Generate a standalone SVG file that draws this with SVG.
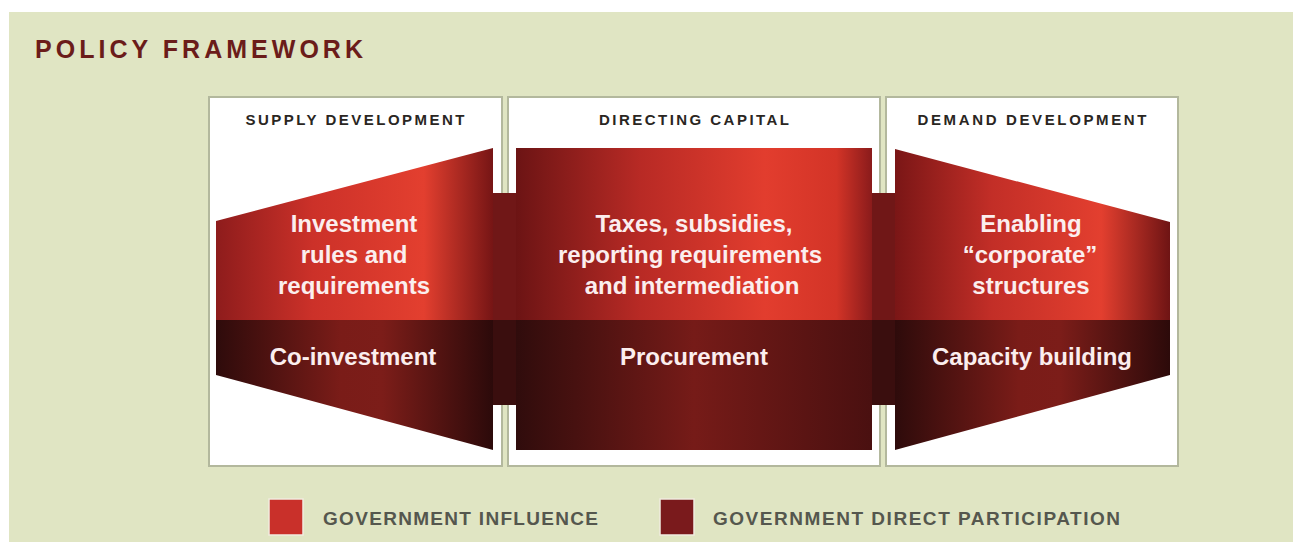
<svg xmlns="http://www.w3.org/2000/svg" width="1293" height="542" viewBox="0 0 1293 542">
  <defs>
    <style>
      .panel { fill: #ffffff; stroke: #b3b89d; stroke-width: 2; }
      .head { font-family: "Liberation Sans", Arial, sans-serif; font-weight: bold; font-size: 15px; fill: #2a2622; text-anchor: middle; }
      .lbl { font-family: "Liberation Sans", Arial, sans-serif; font-weight: bold; font-size: 24px; fill: #fbeeee; text-anchor: middle; }
      .leg { font-family: "Liberation Sans", Arial, sans-serif; font-weight: bold; font-size: 19px; fill: #55574e; }
    </style>
    <linearGradient id="gTopL" x1="0" y1="0" x2="1" y2="0">
      <stop offset="0" stop-color="#8e1c1c"/>
      <stop offset="0.35" stop-color="#cc3129"/>
      <stop offset="0.75" stop-color="#e33f2f"/>
      <stop offset="1" stop-color="#761515"/>
    </linearGradient>
    <linearGradient id="gTopM" x1="0" y1="0" x2="1" y2="0">
      <stop offset="0" stop-color="#6c1414"/>
      <stop offset="0.35" stop-color="#b82a25"/>
      <stop offset="0.7" stop-color="#e23d2e"/>
      <stop offset="0.9" stop-color="#d33427"/>
      <stop offset="1" stop-color="#8a1b1b"/>
    </linearGradient>
    <linearGradient id="gTopR" x1="0" y1="0" x2="1" y2="0">
      <stop offset="0" stop-color="#7a1616"/>
      <stop offset="0.35" stop-color="#c22e27"/>
      <stop offset="0.75" stop-color="#e33f2f"/>
      <stop offset="1" stop-color="#6e1414"/>
    </linearGradient>
    <linearGradient id="gBot" x1="0" y1="0" x2="1" y2="0">
      <stop offset="0" stop-color="#2e0b0b"/>
      <stop offset="0.45" stop-color="#7a1c18"/>
      <stop offset="0.6" stop-color="#7c1d19"/>
      <stop offset="1" stop-color="#2c0a0a"/>
    </linearGradient>
    <linearGradient id="gBotM" x1="0" y1="0" x2="1" y2="0">
      <stop offset="0" stop-color="#300c0c"/>
      <stop offset="0.5" stop-color="#761b18"/>
      <stop offset="1" stop-color="#4a1010"/>
    </linearGradient>
  </defs>

  <rect x="0" y="0" width="1293" height="542" fill="#ffffff"/>
  <rect x="9" y="12" width="1284" height="530" fill="#e0e5c3"/>

  <text x="35" y="58" font-family="Liberation Sans, Arial, sans-serif" font-weight="bold" font-size="25" fill="#6b1c1a" textLength="328" lengthAdjust="spacing">POLICY FRAMEWORK</text>

  <g id="panels">
    <rect class="panel" x="209" y="97" width="293" height="369"/>
    <rect class="panel" x="508" y="97" width="372" height="369"/>
    <rect class="panel" x="886" y="97" width="292" height="369"/>
  </g>

  <g id="connectors">
    <rect x="492" y="193" width="25" height="128" fill="#701717"/>
    <rect x="492" y="320" width="25" height="85" fill="#3a0e0e"/>
    <rect x="871" y="193" width="25" height="128" fill="#701717"/>
    <rect x="871" y="320" width="25" height="85" fill="#3a0e0e"/>
  </g>

  <g id="supply-development">
    <text class="head" x="355" y="125" textLength="219" lengthAdjust="spacing">SUPPLY DEVELOPMENT</text>
    <polygon points="216,221 493,148 493,320.5 216,320.5" fill="url(#gTopL)"/>
    <polygon points="216,320 493,320 493,450 216,375" fill="url(#gBot)"/>
    <text class="lbl" x="354" y="232">Investment</text>
    <text class="lbl" x="354" y="263">rules and</text>
    <text class="lbl" x="354" y="294">requirements</text>
    <text class="lbl" x="353" y="365">Co-investment</text>
  </g>

  <g id="directing-capital">
    <text class="head" x="694" y="125" textLength="190" lengthAdjust="spacing">DIRECTING CAPITAL</text>
    <rect x="516" y="148" width="356" height="172.5" fill="url(#gTopM)"/>
    <rect x="516" y="320" width="356" height="130" fill="url(#gBotM)"/>
    <text class="lbl" x="694" y="232">Taxes, subsidies,</text>
    <text class="lbl" x="690" y="263">reporting requirements</text>
    <text class="lbl" x="692" y="294">and intermediation</text>
    <text class="lbl" x="694" y="365">Procurement</text>
  </g>

  <g id="demand-development">
    <text class="head" x="1032" y="125" textLength="229" lengthAdjust="spacing">DEMAND DEVELOPMENT</text>
    <polygon points="895,149 1170,222 1170,320.5 895,320.5" fill="url(#gTopR)"/>
    <polygon points="895,320 1170,320 1170,375 895,450" fill="url(#gBot)"/>
    <text class="lbl" x="1031" y="232">Enabling</text>
    <text class="lbl" x="1030" y="263">“corporate”</text>
    <text class="lbl" x="1031" y="294">structures</text>
    <text class="lbl" x="1032" y="365">Capacity building</text>
  </g>

  <g id="legend">
    <rect x="269" y="499" width="34" height="36" fill="#c9302a" stroke="#f0ece0" stroke-width="1.5"/>
    <text class="leg" x="323" y="525" textLength="275" lengthAdjust="spacing">GOVERNMENT INFLUENCE</text>
    <rect x="660" y="499" width="34" height="36" fill="#7a1a1c" stroke="#f0ece0" stroke-width="1.5"/>
    <text class="leg" x="713" y="525" textLength="407" lengthAdjust="spacing">GOVERNMENT DIRECT PARTICIPATION</text>
  </g>
</svg>
